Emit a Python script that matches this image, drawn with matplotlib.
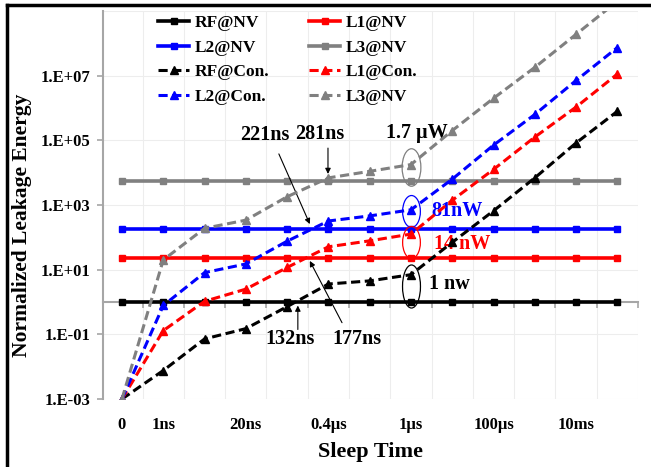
import numpy as np
import matplotlib.pyplot as plt
from matplotlib.path import Path
from matplotlib.transforms import Affine2D
from matplotlib.lines import Line2D

plt.rcParams['font.family'] = ['Liberation Serif', 'DejaVu Serif']
plt.rcParams['font.weight'] = 'bold'

# sleep time categories (only some are labelled on the axis)
x_labels = ["0", "1ns", "", "20ns", "", "0.4\u00b5s", "", "1\u00b5s", "", "100\u00b5s", "", "10ms", ""]
x = np.arange(len(x_labels))

# non-volatile versions: flat normalized leakage energy
rf_nv = 1
l1_nv = 23
l2_nv = 175
l3_nv = 5400

# conventional versions: leakage energy grows with the sleep time
rf_con = [1e-3, 0.0076, 0.072, 0.15, 0.72, 3.6, 4.5, 7.0, 70, 660, 6900, 8.3e4, 7.9e5]
l1_con = [1e-3, 0.13, 1.05, 2.5, 11.7, 51, 78, 126, 1400, 1.26e4, 1.26e5, 1.07e6, 1.12e7]
l2_con = [1e-3, 0.78, 8.1, 15, 76, 320, 460, 710, 6300, 7.1e4, 6.3e5, 7.1e6, 7.4e7]
l3_con = [1e-3, 20, 190, 340, 1800, 6900, 1.1e4, 1.78e4, 2.0e5, 2.0e6, 1.8e7, 1.9e8, 2.0e9]

colors = ["black", "#FF0000", "#0000FF", "#808080"]
gray_axis = "#A6A6A6"

fig = plt.figure(figsize=(6.51, 4.67), dpi=100)
ax = fig.add_axes([103/651, 1 - 399/467, 535/651, 388/467])

solid = [rf_nv, l1_nv, l2_nv, l3_nv]
dashed = [rf_con, l1_con, l2_con, l3_con]
nv_names = ["RF@NV", "L1@NV", "L2@NV", "L3@NV"]
con_names = ["RF@Con.", "L1@Con.", "L2@Con.", "L3@NV"]

h_nv = []
for val, c, name in zip(solid, colors, nv_names):
    h, = ax.plot(x, np.full(len(x), val), color=c, lw=2.6, marker='s', ms=5,
                 label=name, zorder=3)
    h_nv.append(h)
h_con = []
for vals, c, name in zip(dashed, colors, con_names):
    h, = ax.plot(x, vals, color=c, lw=2.2, ls=(0, (3, 1.5)), marker='^', ms=6,
                 label=name, zorder=4)
    h_con.append(h)

ax.set_yscale('log')
ax.set_xlim(-0.46, 12.5)
ax.set_ylim(1e-3, 1e9)
ax.set_yticks([1e-3, 1e-1, 1e1, 1e3, 1e5, 1e7])
ax.set_yticklabels(["1.E-03", "1.E-01", "1.E+01", "1.E+03", "1.E+05", "1.E+07"])
ax.minorticks_off()
ax.tick_params(axis='y', length=4, width=1.2, color=gray_axis, pad=5, labelsize=12)

# horizontal axis crosses at 1
ax.spines['bottom'].set_position(('data', 1))
ax.spines['bottom'].set_color(gray_axis)
ax.spines['bottom'].set_linewidth(1.5)
ax.spines['left'].set_color(gray_axis)
ax.spines['left'].set_linewidth(1.5)
ax.spines['top'].set_visible(False)
ax.spines['right'].set_visible(False)
ax.set_xticks(np.arange(0.5, 13, 1))
ax.tick_params(axis='x', length=4, width=1.2, color=gray_axis, labelbottom=False)

# light gridlines
for yv in [1e-3, 1e-1, 1e1, 1e3, 1e5, 1e7, 1e9]:
    ax.axhline(yv, color="#EDEDED", lw=0.8, zorder=0)
for xv in np.arange(0.5, 13, 1):
    ax.axvline(xv, color="#EDEDED", lw=0.8, zorder=0)

# category labels at the bottom of the plot
for xi, lab in zip(x, x_labels):
    ax.text(xi, -0.066, lab, transform=ax.get_xaxis_transform(), ha='center',
            va='center', fontsize=12, fontweight='bold')
ax.text(0.5, -0.137, "Sleep Time", transform=ax.transAxes, ha='center', va='center',
        fontsize=16, fontweight='bold')
fig.text(22/651, 0.518, "Normalized Leakage Energy", rotation=90, ha='center',
         va='center', fontsize=15.5, fontweight='bold')

# legend in row order of the original (two columns)
handles = [h_nv[0], h_nv[2], h_con[0], h_con[2], h_nv[1], h_nv[3], h_con[1], h_con[3]]
ax.legend(handles=handles, labels=[h.get_label() for h in handles], ncol=2,
          loc='upper left', bbox_to_anchor=(0.087, 1.013), frameon=False, fontsize=12.5,
          handlelength=1.8, handletextpad=0.3, columnspacing=2.3, labelspacing=0.5,
          borderpad=0.0)

# ellipses around the 1us points
def ellipse(aspect):
    return Path.unit_circle().transformed(Affine2D().scale(1, aspect))

ax.plot(7, 1.5e4, marker=ellipse(2.0), ms=27, mfc='none', mec=colors[3], mew=0.9, zorder=5)
ax.plot(7, 660, marker=ellipse(1.8), ms=23, mfc='none', mec=colors[2], mew=0.9, zorder=5)
ax.plot(7, 72, marker=ellipse(1.8), ms=23, mfc='none', mec=colors[1], mew=0.9, zorder=5)
ax.plot(7, 3.2, marker=ellipse(2.4), ms=31, mfc='none', mec=colors[0], mew=0.9, zorder=5)

ax.text(7.14, 10**5.22, "1.7 \u00b5W", ha='center', va='center', fontsize=14.5)
ax.text(8.12, 10**2.82, "81nW", ha='center', va='center', fontsize=14.5, color=colors[2])
ax.text(8.25, 10**1.80, "14 nW", ha='center', va='center', fontsize=14.5, color=colors[1])
ax.text(7.92, 10**0.56, "1 nw", ha='center', va='center', fontsize=14.5)

arrow = dict(arrowstyle='-|>', color='black', lw=0.8, mutation_scale=8, shrinkA=0, shrinkB=0)
ax.text(3.46, 10**5.16, "221ns", ha='center', va='center', fontsize=14.5)
ax.annotate("", xy=(4.55, 10**2.41), xytext=(3.8, 10**4.58), arrowprops=arrow)
ax.text(4.79, 10**5.19, "281ns", ha='center', va='center', fontsize=14.5)
ax.annotate("", xy=(4.99, 10**3.96), xytext=(4.99, 10**4.76), arrowprops=arrow)
ax.text(4.07, 10**-1.13, "132ns", ha='center', va='center', fontsize=14.5)
ax.annotate("", xy=(4.26, 10**-0.11), xytext=(4.26, 10**-0.85), arrowprops=arrow)
ax.text(5.69, 10**-1.13, "177ns", ha='center', va='center', fontsize=14.5)
ax.annotate("", xy=(4.55, 10**1.27), xytext=(5.33, 10**-0.64), arrowprops=arrow)

# black frame lines on the top and left of the figure
fig.add_artist(Line2D([7/651, 1], [1 - 4.5/467, 1 - 4.5/467], color='black', lw=2.5))
fig.add_artist(Line2D([7/651, 7/651], [0, 1 - 4.5/467], color='black', lw=2.5))

fig.savefig("out.png", dpi=100)
